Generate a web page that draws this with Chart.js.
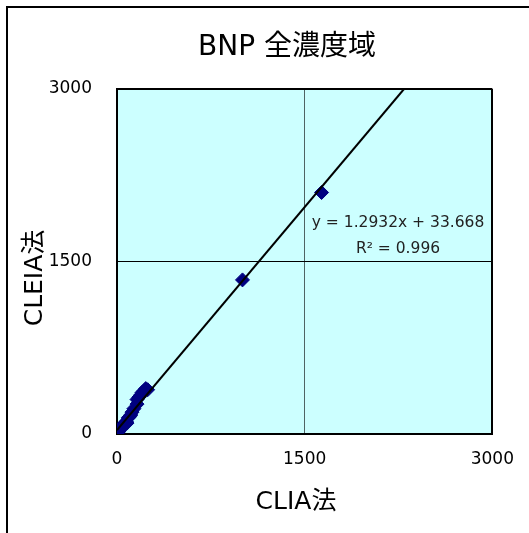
<!DOCTYPE html>
<html>
<head>
<meta charset="utf-8">
<title>BNP 全濃度域</title>
<script src="https://cdn.jsdelivr.net/npm/chart.js"></script>
<style>
  html, body { margin: 0; padding: 0; background: #fff; overflow: hidden; }
</style>
</head>
<body>
<canvas id="bnpChart" width="529" height="533"></canvas>
<script>
// CLIA法 (x) vs CLEIA法 (y)
const cliaValues  = [5, 12, 20, 28, 35, 42, 50, 58, 65, 75, 80, 90, 100, 110, 120, 135, 160, 160, 175, 190, 200, 215, 230, 245, 1003, 1635];
const cleiaValues = [12, 20, 35, 42, 55, 68, 75, 88, 100, 110, 95, 140, 150, 165, 190, 220, 260, 300, 320, 340, 360, 375, 395, 385, 1340, 2100];

const axisTicks = [0, 1500, 3000];
const slope = 1.2932;
const intercept = 33.668;
const r2 = 0.996;

const FONT = '"DejaVu Sans", "Noto Sans CJK JP", sans-serif';

const points = cliaValues.map((v, i) => ({ x: v, y: cleiaValues[i] }));
const axisMax = axisTicks[axisTicks.length - 1];
// trendline from x=0 up to where it leaves the top of the plot
const trend = [
    { x: 0, y: intercept },
    { x: (axisMax - intercept) / slope, y: axisMax }
];

// frame, plot background, title, axis titles and the trendline label
const frameAndLabels = {
    id: 'frameAndLabels',
    beforeDraw(chart) {
        const c = chart.ctx;
        const a = chart.chartArea;
        c.save();
        c.fillStyle = '#fff';
        c.fillRect(0, 0, chart.width, chart.height);
        c.strokeStyle = '#000';
        c.lineWidth = 2;
        c.strokeRect(7, 7, 700, 700);
        c.fillStyle = '#ccffff';
        c.fillRect(a.left, a.top, a.right - a.left, a.bottom - a.top);
        c.restore();
    },
    afterDraw(chart) {
        const c = chart.ctx;
        c.save();
        c.fillStyle = '#000';
        c.textAlign = 'center';
        c.textBaseline = 'middle';
        c.font = '28px ' + FONT;
        c.fillText('BNP 全濃度域', 287, 48);
        c.font = '25px ' + FONT;
        c.fillText('CLIA法', 296, 502);
        c.save();
        c.translate(35, 278);
        c.rotate(-Math.PI / 2);
        c.fillText('CLEIA法', 0, 0);
        c.restore();
        c.font = '15.5px ' + FONT;
        c.fillStyle = '#222';
        c.fillText('y = ' + slope + 'x + ' + intercept, 398, 223);
        c.fillText('R² = ' + r2, 398, 249);
        c.restore();
    }
};

const ctx = document.getElementById('bnpChart').getContext('2d');

const bnpChart = new Chart(ctx, {
    type: 'scatter',
    data: {
        datasets: [{
            label: 'trend',
            type: 'line',
            data: trend,
            borderColor: '#000',
            borderWidth: 2,
            pointRadius: 0,
            fill: false,
            order: 0,
        }, {
            label: 'BNP',
            data: points,
            pointStyle: 'rectRot',
            pointRadius: 7,
            backgroundColor: '#000080',
            borderColor: '#000080',
            borderWidth: 1,
            order: 1,
        }]
    },
    plugins: [frameAndLabels],
    options: {
        responsive: false,
        animation: false,
        layout: {
            padding: { top: 89, right: 36, left: 0, bottom: 0 }
        },
        plugins: {
            legend: { display: false },
            title: { display: false },
            tooltip: { enabled: false },
        },
        scales: {
            x: {
                type: 'linear',
                min: 0,
                max: axisMax,
                afterBuildTicks: s => { s.ticks = axisTicks.map(v => ({ value: v })); },
                afterFit: s => { s.height = 99; },
                ticks: {
                    color: '#000',
                    padding: 15,
                    font: { size: 17, family: FONT },
                    callback: v => String(v),
                },
                grid: {
                    drawTicks: false,
                    color: c => c.tick && c.tick.value === 1500 ? '#4f6363' : '#000',
                    lineWidth: c => c.tick && c.tick.value === 1500 ? 1 : 2,
                },
                border: { display: true, color: '#000', width: 2 },
            },
            y: {
                type: 'linear',
                min: 0,
                max: axisMax,
                afterBuildTicks: s => { s.ticks = axisTicks.map(v => ({ value: v })); },
                afterFit: s => { s.width = 117; },
                ticks: {
                    color: '#000',
                    padding: 25,
                    font: { size: 17, family: FONT },
                    callback: v => String(v),
                },
                grid: {
                    drawTicks: false,
                    color: '#000',
                    lineWidth: c => c.tick && c.tick.value === 1500 ? 1 : 2,
                },
                border: { display: true, color: '#000', width: 2 },
            }
        }
    }
});
</script>
</body>
</html>
